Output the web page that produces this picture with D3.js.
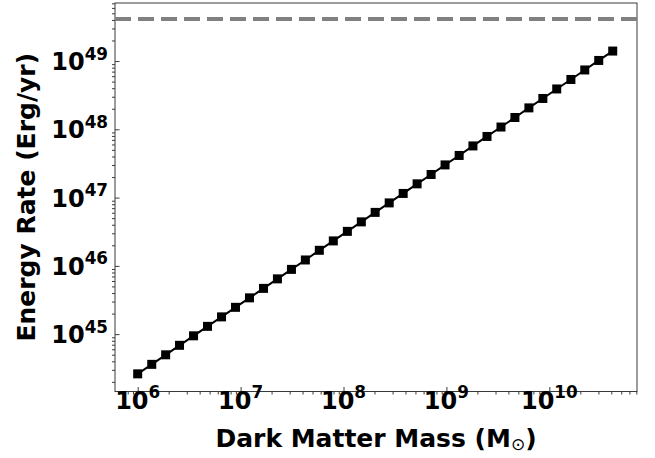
<!DOCTYPE html>
<html>
<head>
<meta charset="utf-8">
<script src="https://cdn.jsdelivr.net/npm/d3@7"></script>
<style>
  body { margin: 0; background: #fff; }
  text { font-family: "DejaVu Sans", sans-serif; font-weight: bold; fill: #000; }
</style>
</head>
<body>
<svg id="chart" width="655" height="458"></svg>
<script>
// Dark matter halo mass (solar masses)
const massValues = [
  1.00e6, 1.37e6, 1.87e6, 2.55e6, 3.49e6, 4.77e6, 6.53e6, 8.92e6,
  1.22e7, 1.67e7, 2.28e7, 3.12e7, 4.26e7, 5.82e7, 7.96e7,
  1.09e8, 1.49e8, 2.03e8, 2.78e8, 3.80e8, 5.19e8, 7.10e8, 9.70e8,
  1.33e9, 1.81e9, 2.48e9, 3.39e9, 4.63e9, 6.33e9, 8.65e9,
  1.18e10, 1.62e10, 2.21e10, 3.02e10, 4.13e10
];
// Energy rate for each mass (erg / yr)
const energyRates = [
  2.62e44, 3.61e44, 4.98e44, 6.86e44, 9.45e44, 1.30e45, 1.79e45, 2.47e45,
  3.40e45, 4.68e45, 6.45e45, 8.88e45, 1.22e46, 1.69e46, 2.32e46,
  3.20e46, 4.41e46, 6.07e46, 8.36e46, 1.15e47, 1.59e47, 2.18e47, 3.01e47,
  4.14e47, 5.71e47, 7.86e47, 1.08e48, 1.49e48, 2.06e48, 2.83e48,
  3.90e48, 5.37e48, 7.40e48, 1.02e49, 1.40e49
];
// Upper limit drawn as a horizontal dashed line
const limitRate = 4.13e49;

const xMajorExponents = [6, 7, 8, 9, 10];
const yMajorExponents = [45, 46, 47, 48, 49];
const xAxisTitle = "Dark Matter Mass (M";
const xAxisSymbol = "\u2299";
const yAxisTitle = "Energy Rate (Erg/yr)";

const svg = d3.select("#chart");
const plot = { left: 115, right: 637, top: 3, bottom: 391.5 };

const x = d3.scaleLog().domain([6.02e5, 7.11e10]).range([plot.left, plot.right]);
const y = d3.scaleLog().domain([1.445e44, 7.08e49]).range([plot.bottom, plot.top]);

const axisColor = "#3a3a3a";
const tickFont = 24;
const titleFont = 25;
const isMajor = v => Math.abs(Math.log10(v) - Math.round(Math.log10(v))) < 1e-9;

// Minor ticks point outward, major ticks point inward
const xMinor = x.ticks().filter(v => !isMajor(v));
const yMinor = y.ticks().filter(v => !isMajor(v));
const xMajor = xMajorExponents.map(e => Math.pow(10, e));
const yMajor = yMajorExponents.map(e => Math.pow(10, e));

function styleAxis(g) {
  g.select(".domain").remove();
  g.selectAll(".tick line").attr("stroke", axisColor).attr("stroke-width", 1);
  g.selectAll(".tick text").remove();
}

svg.append("g")
  .attr("transform", `translate(0,${plot.bottom})`)
  .call(d3.axisBottom(x).tickValues(xMinor).tickSize(3).tickFormat(""))
  .call(styleAxis);
svg.append("g")
  .attr("transform", `translate(0,${plot.bottom})`)
  .call(d3.axisBottom(x).tickValues(xMajor).tickSize(-4.5).tickFormat(""))
  .call(styleAxis);
svg.append("g")
  .attr("transform", `translate(${plot.left},0)`)
  .call(d3.axisLeft(y).tickValues(yMinor).tickSize(3).tickFormat(""))
  .call(styleAxis);
svg.append("g")
  .attr("transform", `translate(${plot.left},0)`)
  .call(d3.axisLeft(y).tickValues(yMajor).tickSize(-4.5).tickFormat(""))
  .call(styleAxis);

// Frame
svg.append("rect")
  .attr("x", plot.left).attr("y", plot.top)
  .attr("width", plot.right - plot.left).attr("height", plot.bottom - plot.top)
  .attr("fill", "none").attr("stroke", axisColor).attr("stroke-width", 1);

// Power-of-ten tick labels
function powerLabel(sel, exponent) {
  sel.append("tspan").text("10");
  sel.append("tspan").attr("dy", -10.5).attr("font-size", tickFont * 0.7).text(exponent);
}
svg.append("g").selectAll("text").data(xMajorExponents).join("text")
  .attr("x", d => x(Math.pow(10, d)))
  .attr("y", plot.bottom + 17)
  .attr("text-anchor", "middle")
  .attr("font-size", tickFont)
  .each(function (d) { powerLabel(d3.select(this), d); });
svg.append("g").selectAll("text").data(yMajorExponents).join("text")
  .attr("x", plot.left - 7)
  .attr("y", d => y(Math.pow(10, d)) + 9)
  .attr("text-anchor", "end")
  .attr("font-size", tickFont)
  .each(function (d) { powerLabel(d3.select(this), d); });

// Dashed limit line
svg.append("line")
  .attr("x1", plot.left).attr("x2", plot.right)
  .attr("y1", y(limitRate)).attr("y2", y(limitRate))
  .attr("stroke", "#808080").attr("stroke-width", 4)
  .attr("stroke-dasharray", "16,7");

// Energy rate series
const points = massValues.map((m, i) => [m, energyRates[i]]);
svg.append("path")
  .datum(points)
  .attr("fill", "none").attr("stroke", "#000").attr("stroke-width", 2)
  .attr("d", d3.line().x(d => x(d[0])).y(d => y(d[1])));
const ms = 9;
svg.append("g").selectAll("rect").data(points).join("rect")
  .attr("x", d => x(d[0]) - ms / 2)
  .attr("y", d => y(d[1]) - ms / 2)
  .attr("width", ms).attr("height", ms)
  .attr("fill", "#000");

// Axis titles
const xt = svg.append("text")
  .attr("x", (plot.left + plot.right) / 2)
  .attr("y", 447)
  .attr("text-anchor", "middle")
  .attr("font-size", titleFont);
xt.append("tspan").text(xAxisTitle);
xt.append("tspan").attr("font-size", 17).attr("font-weight", "normal").attr("dy", 3).text(xAxisSymbol);
xt.append("tspan").attr("dy", -3).text(")");

svg.append("text")
  .attr("transform", `translate(35,${(plot.top + plot.bottom) / 2}) rotate(-90)`)
  .attr("text-anchor", "middle")
  .attr("font-size", titleFont)
  .text(yAxisTitle);
</script>
</body>
</html>
